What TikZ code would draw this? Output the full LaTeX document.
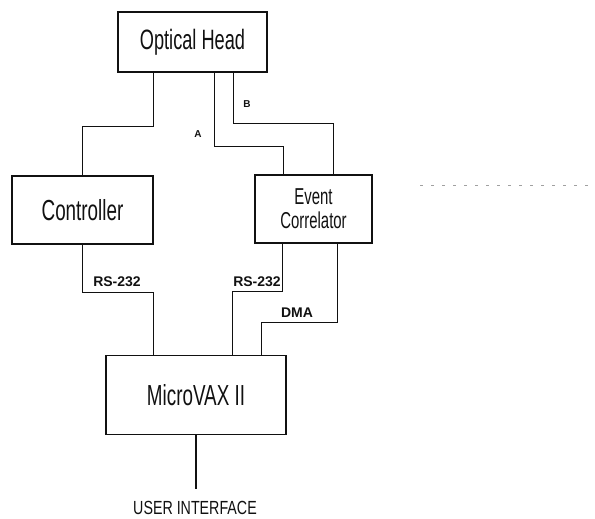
\documentclass[tikz,border=0pt]{standalone}
\usepackage{fontspec}
\usepackage{tikz}
\newfontfamily\plotfont{Liberation Sans}[FakeStretch=0.65]
\newfontfamily\uifont{Liberation Sans}[FakeStretch=0.75]
\newfontfamily\tagfont{Liberation Sans}
\definecolor{ink}{HTML}{111111}
\definecolor{scan}{HTML}{A0A0A0}
\tikzset{
  unit/.style={draw=ink, line width=1.3pt, align=center, inner sep=0pt, text=ink},
  wire/.style={draw=ink, line width=1.4pt},
  tag/.style={font=\tagfont\bfseries\fontsize{14}{15}\selectfont, text=ink, inner sep=1pt},
}

\begin{document}
\begin{tikzpicture}[x=1pt, y=-1pt]
  \useasboundingbox (0,0) rectangle (595,519);

  % boxes
  \node[unit, minimum width=149pt, minimum height=60pt, font=\plotfont\fontsize{28}{30}\selectfont] (opt) at (192.5,42) {Optical Head};
  \node[unit, minimum width=141pt, minimum height=68pt, font=\plotfont\fontsize{29}{31}\selectfont] (ctrl) at (82.5,210) {Controller};
  \node[unit, minimum width=117pt, minimum height=68pt, font=\plotfont\fontsize{23}{24}\selectfont] (ec) at (313.5,209) {Event\\Correlator};
  \node[unit, minimum width=180pt, minimum height=79pt, font=\plotfont\fontsize{29}{31}\selectfont] (mvax) at (196,395) {MicroVAX II};

  % optical head to controller and correlator
  \draw[wire] (opt.south -| ctrl.east) -- ++(0,54) -| (ctrl.north);
  \draw[wire] ([xshift=97pt]opt.south west) -- ++(0,74) -| ([xshift=29pt]ec.north west);
  \draw[wire] ([xshift=116pt]opt.south west) -- ++(0,51) -| ([xshift=79pt]ec.north west);
  \node[tag, font=\tagfont\bfseries\fontsize{10}{11}\selectfont] (lblA) at (198,134) {A};
  \node[tag, font=\tagfont\bfseries\fontsize{10}{11}\selectfont] (lblB) at (247,104) {B};

  % links to the MicroVAX
  \draw[wire] (ctrl.south) -- ++(0,48) -| (mvax.north -| ctrl.east);
  \draw[wire] ([xshift=28pt]ec.south west) -- ++(0,48) -| ([xshift=127pt]mvax.north west);
  \draw[wire] ([xshift=83pt]ec.south west) -- ++(0,79) -| ([xshift=156pt]mvax.north west);
  \node[tag] (rsL) at (117,282) {RS-232};
  \node[tag] (rsR) at (257,282) {RS-232};
  \node[tag] (dma) at (297,313) {DMA};

  % user side
  \draw[wire] (mvax.south) -- ++(0,54) coordinate (uiend);
  \node[font=\uifont\fontsize{19}{21}\selectfont, text=ink] (ui) at (195,508) {USER INTERFACE};

  \draw[scan, line width=0.6pt, dash pattern=on 3pt off 8pt] (420,185) -- (595,185);
\end{tikzpicture}
\end{document}
